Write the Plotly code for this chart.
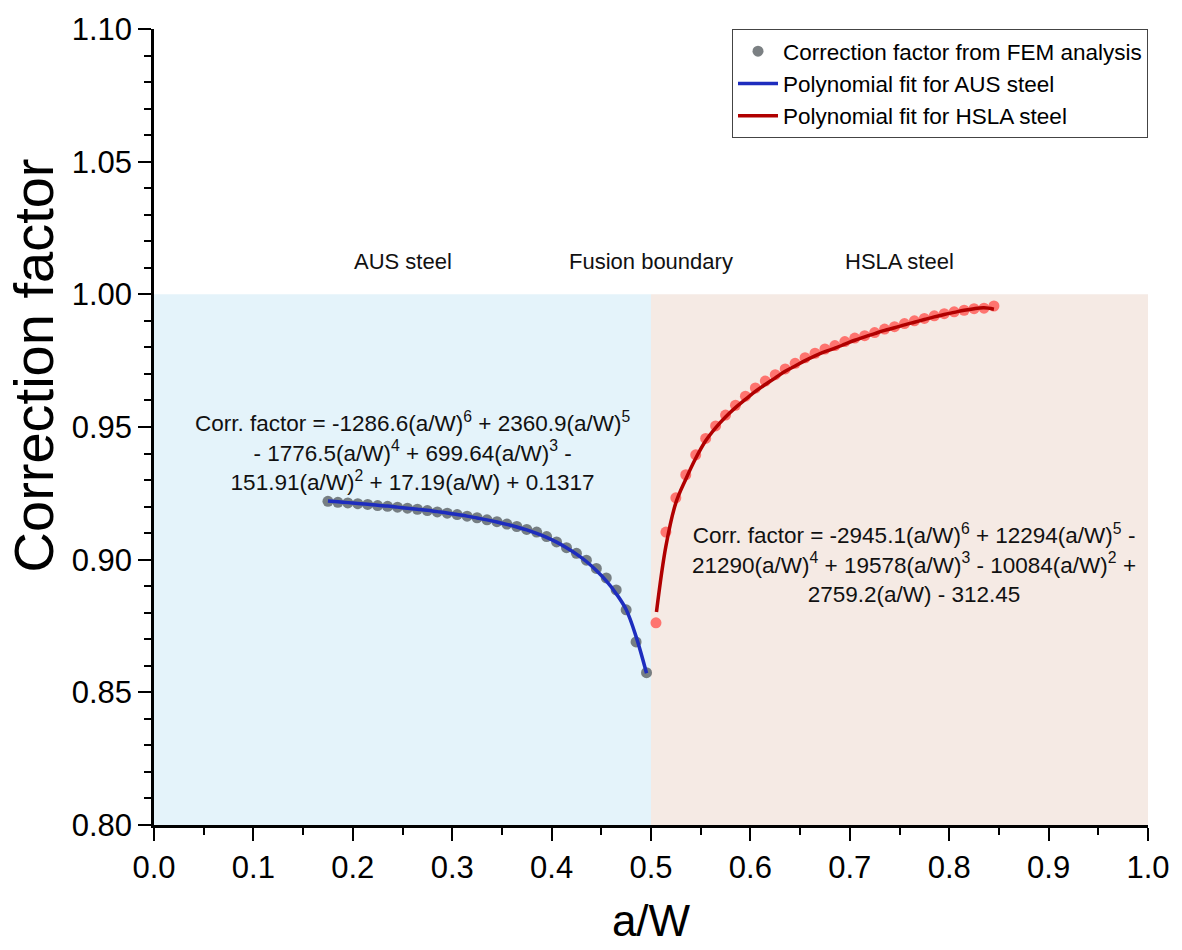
import plotly.graph_objects as go

# ---- data ----
aus_x = [0.175, 0.185, 0.195, 0.205, 0.215, 0.225, 0.235, 0.245, 0.255, 0.265, 0.275,
         0.285, 0.295, 0.305, 0.315, 0.325, 0.335, 0.345, 0.355, 0.365, 0.375, 0.385,
         0.395, 0.405, 0.415, 0.425, 0.435, 0.445, 0.455, 0.465, 0.475, 0.485, 0.4955]
aus_fem = [0.9220, 0.9216, 0.9214, 0.9211, 0.9208, 0.9204, 0.9201, 0.9198, 0.9194, 0.9190,
           0.9185, 0.9180, 0.9175, 0.9170, 0.9164, 0.9158, 0.9150, 0.9143, 0.9134, 0.9125,
           0.9114, 0.9104, 0.9087, 0.9067, 0.9045, 0.9024, 0.8998, 0.8967, 0.8931, 0.8886,
           0.8811, 0.8690, 0.8574]
aus_fit = [0.9221, 0.9218, 0.9215, 0.9212, 0.9209, 0.9205, 0.9202, 0.9198, 0.9194, 0.9190,
           0.9186, 0.9181, 0.9176, 0.9170, 0.9164, 0.9157, 0.9150, 0.9142, 0.9133, 0.9123,
           0.9112, 0.9099, 0.9084, 0.9066, 0.9045, 0.9021, 0.8993, 0.8959, 0.8920, 0.8872,
           0.8812, 0.8710, 0.8572]

hsla_x = [0.505, 0.515, 0.525, 0.535, 0.545, 0.555, 0.565, 0.575, 0.585, 0.595, 0.605,
          0.615, 0.625, 0.635, 0.645, 0.655, 0.665, 0.675, 0.685, 0.695, 0.705, 0.715,
          0.725, 0.735, 0.745, 0.755, 0.765, 0.775, 0.785, 0.795, 0.805, 0.815, 0.825,
          0.835, 0.845]
hsla_fem = [0.8762, 0.9104, 0.9233, 0.9320, 0.9395, 0.9457, 0.9504, 0.9545, 0.9582, 0.9616,
            0.9647, 0.9673, 0.9697, 0.9719, 0.9740, 0.9761, 0.9778, 0.9794, 0.9807, 0.9822,
            0.9835, 0.9844, 0.9856, 0.9869, 0.9878, 0.9890, 0.9900, 0.9909, 0.9919, 0.9927,
            0.9934, 0.9940, 0.9946, 0.9948, 0.9956]
hsla_fit_x = [0.5055, 0.515, 0.525, 0.535, 0.545, 0.555, 0.565, 0.575, 0.585, 0.595, 0.605,
              0.615, 0.625, 0.635, 0.645, 0.655, 0.665, 0.675, 0.685, 0.695, 0.705, 0.715,
              0.725, 0.735, 0.745, 0.755, 0.765, 0.775, 0.785, 0.795, 0.805, 0.815, 0.825,
              0.835, 0.845]
hsla_fit = [0.8803, 0.9051, 0.9214, 0.9303, 0.9382, 0.9448, 0.9497, 0.9538, 0.9573, 0.9604,
            0.9634, 0.9660, 0.9685, 0.9710, 0.9730, 0.9750, 0.9768, 0.9784, 0.9797, 0.9812,
            0.9827, 0.9840, 0.9852, 0.9864, 0.9874, 0.9885, 0.9895, 0.9905, 0.9915, 0.9924,
            0.9932, 0.9940, 0.9946, 0.9949, 0.9944]

region_labels = ["AUS steel", "Fusion boundary", "HSLA steel"]
region_label_x = [0.25, 0.50, 0.75]

eq_aus = ("Corr. factor = -1286.6(a/W)<sup>6</sup> + 2360.9(a/W)<sup>5</sup><br>"
          "- 1776.5(a/W)<sup>4</sup> + 699.64(a/W)<sup>3</sup> -<br>"
          "151.91(a/W)<sup>2</sup> + 17.19(a/W) + 0.1317")
eq_hsla = ("Corr. factor = -2945.1(a/W)<sup>6</sup> + 12294(a/W)<sup>5</sup> -<br>"
           "21290(a/W)<sup>4</sup> + 19578(a/W)<sup>3</sup> - 10084(a/W)<sup>2</sup> +<br>"
           "2759.2(a/W) - 312.45")

FONT = "Liberation Sans, Arial, sans-serif"

fig = go.Figure()

fig.add_trace(go.Scatter(
    x=aus_x, y=aus_fem, mode="markers", name="Correction factor from FEM analysis",
    marker=dict(size=11, color="rgba(90,96,100,0.8)", line=dict(width=0)),
))
fig.add_trace(go.Scatter(
    x=hsla_x, y=hsla_fem, mode="markers", showlegend=False,
    marker=dict(size=11, color="rgba(255,95,90,0.85)", line=dict(width=0)),
))
fig.add_trace(go.Scatter(
    x=aus_x, y=aus_fit, mode="lines", name="Polynomial fit for AUS steel",
    line=dict(color="#1E2DBE", width=3.5, shape="spline"),
))
fig.add_trace(go.Scatter(
    x=hsla_fit_x, y=hsla_fit, mode="lines", name="Polynomial fit for HSLA steel",
    line=dict(color="#B00000", width=3.5, shape="spline"),
))

fig.add_shape(type="rect", xref="x", yref="y", x0=0, x1=0.5, y0=0.8, y1=1.0,
              fillcolor="#E4F3FA", line=dict(width=0), layer="below")
fig.add_shape(type="rect", xref="x", yref="y", x0=0.5, x1=1.0, y0=0.8, y1=1.0,
              fillcolor="#F5EAE4", line=dict(width=0), layer="below")

for lab, lx in zip(region_labels, region_label_x):
    fig.add_annotation(x=lx, y=1.0124, xref="x", yref="y", text=lab, showarrow=False,
                       font=dict(size=22, color="#111111", family=FONT))

fig.add_annotation(x=0.26, y=0.9409, xref="x", yref="y", text=eq_aus, showarrow=False,
                   align="center", font=dict(size=22.5, color="#111111", family=FONT))
fig.add_annotation(x=0.765, y=0.8987, xref="x", yref="y", text=eq_hsla, showarrow=False,
                   align="center", font=dict(size=22.5, color="#111111", family=FONT))

# y-axis title (placed as in the reference, slightly above the plot centre)
fig.add_annotation(x=-0.121, y=0.577, xref="paper", yref="paper", text="Correction factor",
                   textangle=-90, showarrow=False, xanchor="center", yanchor="middle",
                   font=dict(size=56, color="black", family=FONT))

axis_common = dict(
    showgrid=False, zeroline=False, showline=True, linecolor="black", linewidth=2.5,
    ticks="outside", ticklen=13, tickwidth=2, tickcolor="black",
    tickfont=dict(size=31, color="black", family=FONT),
)

fig.update_layout(
    width=1182, height=950,
    margin=dict(l=154, r=30, t=27, b=121),
    paper_bgcolor="white", plot_bgcolor="white",
    font=dict(family=FONT, color="black"),
    xaxis=dict(range=[0, 1], tick0=0, dtick=0.1, tickformat=".1f",
               minor=dict(dtick=0.05, ticks="outside", ticklen=7, tickwidth=2, tickcolor="black"),
               title=dict(text="a/W", font=dict(size=44, color="black", family=FONT), standoff=22),
               **axis_common),
    yaxis=dict(range=[0.8, 1.1], tick0=0.8, dtick=0.05, tickformat=".2f",
               minor=dict(dtick=0.01, ticks="outside", ticklen=7, tickwidth=2, tickcolor="black"),
               **axis_common),
    legend=dict(x=1.0, y=1.0, xanchor="right", yanchor="top",
                bgcolor="white", bordercolor="#444444", borderwidth=1,
                font=dict(size=22.5, color="black", family=FONT),
                itemwidth=40, tracegroupgap=0),
)

fig.write_html("out.html")
